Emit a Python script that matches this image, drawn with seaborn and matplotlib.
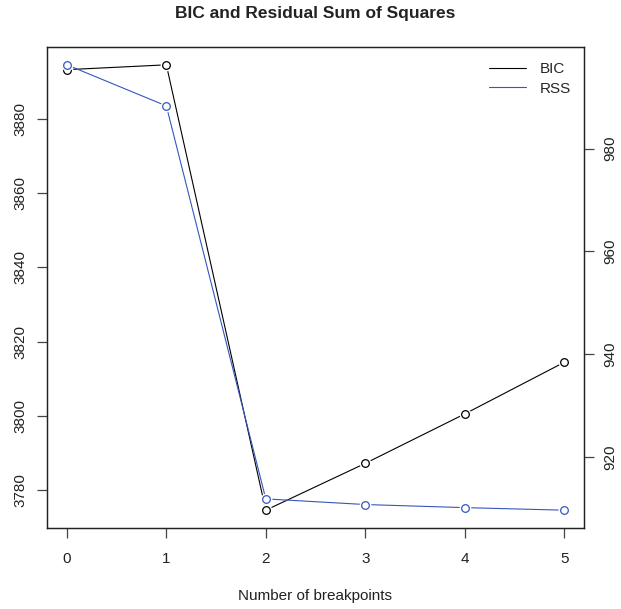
import matplotlib
matplotlib.use("Agg")
import matplotlib.pyplot as plt
import seaborn as sns
import pandas as pd
import numpy as np

breakpoints = [0, 1, 2, 3, 4, 5]
bic = [3893.2, 3894.5, 3774.6, 3787.2, 3800.5, 3814.4]
rss = [996.3, 988.3, 911.8, 910.7, 910.1, 909.6]
bic_ticks = [3780, 3800, 3820, 3840, 3860, 3880]
rss_ticks = [920, 940, 960, 980]

sns.set_style("ticks")
plt.rcParams['font.family'] = ['Liberation Sans', 'DejaVu Sans']

df = pd.DataFrame({"m": breakpoints, "BIC": bic, "RSS": rss})

fig = plt.figure(figsize=(6.21, 6.09), dpi=100)
ax = fig.add_axes([0.0757, 0.133, 0.8647, 0.7898])
ax2 = ax.twinx()

blue = "#3656C0"
fs = 11

def draw(a, y, color):
    sns.lineplot(data=df, x="m", y=y, ax=a, color=color, linewidth=0.8, legend=False, zorder=1)
    a.plot(df["m"], df[y], linestyle="none", marker="o", markersize=8.5, markerfacecolor="white",
           markeredgecolor="none", zorder=2)
    a.plot(df["m"], df[y], linestyle="none", marker="o", markersize=5.5, markerfacecolor="none",
           markeredgecolor=color, markeredgewidth=0.9, zorder=3)

draw(ax, "BIC", "black")
draw(ax2, "RSS", blue)

def pad(vals, f=0.04):
    lo, hi = min(vals), max(vals)
    r = hi - lo
    return lo - f * r, hi + f * r

ax.set_xlim(-0.2, 5.2)
ax.set_ylim(*pad(bic))
ax2.set_ylim(*pad(rss))

ax.set_xticks(breakpoints)
ax.set_xticklabels([str(b) for b in breakpoints], fontsize=fs)
ax.set_yticks(bic_ticks)
ax.set_yticklabels([str(t) for t in bic_ticks], fontsize=fs, rotation=90, va="center")
ax2.set_yticks(rss_ticks)
ax2.set_yticklabels([str(t) for t in rss_ticks], fontsize=fs, rotation=90, va="center")

for a in (ax, ax2):
    for s in a.spines.values():
        s.set_visible(True)
        s.set_color("#222222")
        s.set_linewidth(0.9)
    a.tick_params(length=7, width=0.9, color="#444444", labelcolor="#222222")
ax.tick_params(axis="x", pad=10)
ax.tick_params(axis="y", pad=7)
ax2.tick_params(axis="y", pad=7)

ax.set_xlabel("Number of breakpoints", fontsize=fs, labelpad=17, color="#222222")
ax.set_ylabel("")
ax2.set_ylabel("")
fig.suptitle("BIC and Residual Sum of Squares", fontsize=12.5, fontweight="bold", y=0.99, x=0.508,
             color="#222222")

from matplotlib.lines import Line2D
handles = [Line2D([], [], color="black", lw=0.8), Line2D([], [], color=blue, lw=0.8)]
ax.legend(handles, ["BIC", "RSS"], loc="upper right", frameon=False, fontsize=fs,
          handlelength=2.4, handletextpad=0.9, labelspacing=0.35, borderaxespad=0.2,
          borderpad=0.4, bbox_to_anchor=(0.9926, 0.9875))

fig.savefig("out.png", dpi=100)
